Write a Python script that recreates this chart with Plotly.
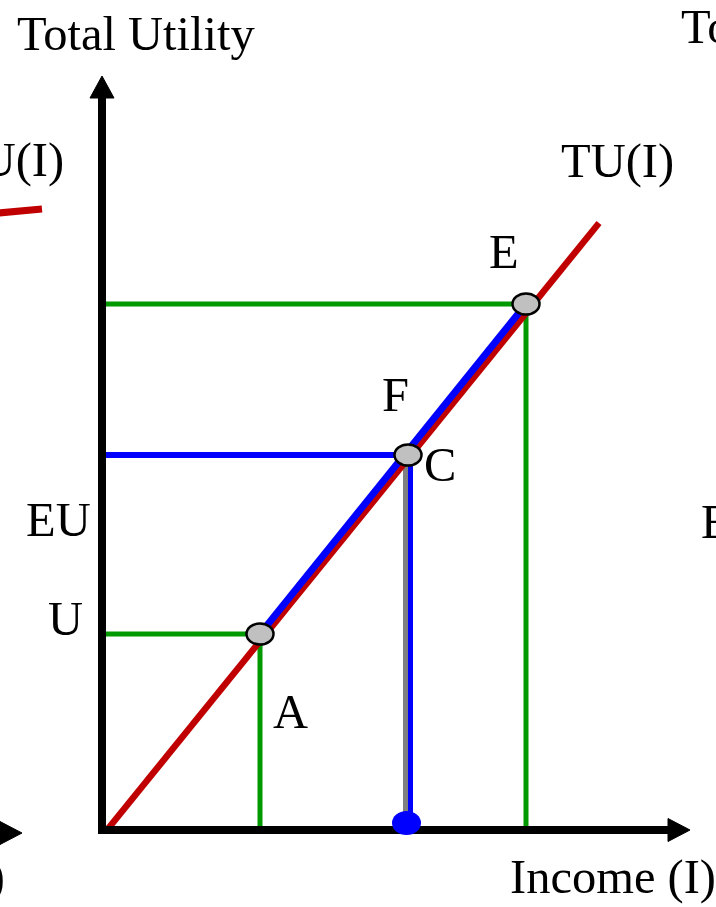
import plotly.graph_objects as go

# ---------------- data (diagram units: income, utility) ----------------
point_names = ["A", "C", "E"]
point_income = [158, 306, 424]
point_utility = [196, 375, 526]

# TU(I): straight total-utility line
tu_income = [5, 497]
tu_utility = [0, 607]

# axis extents (arrow tips)
income_axis_tip = 588
utility_axis_tip = 754

# fragments of the neighbouring panels
left_tu_income = [-125, -60]
left_tu_utility = [615, 621]
left_axis_tip = [-80, -3]

# labels
label_text = ["Total Utility", "TU(I)", "E", "F", "C", "EU", "U", "A", "Income (I)"]
label_x = [34, 515, 402, 293, 338, -43.5, -36.5, 188, 511]
label_y = [797, 669, 579, 436, 366, 311, 212, 119, -47]

# partial labels cut by the frame edges (text, x, y, anchor)
edge_text = ["TU(I)", "Total Utility", "EU", "Income (I)"]
edge_x = [-36, 577, 597, -95]
edge_y = [670, 804, 309, -47]
edge_anchor = ["right", "left", "left", "right"]

# ---------------- styles ----------------
RED = "#c00000"
BLUE = "#0000ff"
GREEN = "#009900"
GRAY = "#808080"
FONT = "Liberation Serif"
FS = 48.5

iA, iC, iE = point_income
uA, uC, uE = point_utility

fig = go.Figure()

def line(x, y, color, width):
    fig.add_trace(go.Scatter(x=x, y=y, mode="lines",
                             line=dict(color=color, width=width),
                             hoverinfo="skip", showlegend=False))

def arrow_head(tip_x, tip_y, direction, length, half):
    if direction == "up":
        xs = [tip_x, tip_x - half, tip_x + half, tip_x]
        ys = [tip_y, tip_y - length, tip_y - length, tip_y]
    else:
        xs = [tip_x, tip_x - length, tip_x - length, tip_x]
        ys = [tip_y, tip_y + half, tip_y - half, tip_y]
    fig.add_trace(go.Scatter(x=xs, y=ys, mode="lines", fill="toself",
                             fillcolor="black", line=dict(color="black", width=1),
                             hoverinfo="skip", showlegend=False))

# green guides for A and E
line([0, iA, iA], [uA, uA, 0], GREEN, 5)
line([0, iE, iE], [uE, uE, 0], GREEN, 5)
# blue horizontal to C, gray and blue verticals
line([0, iC], [uC, uC], BLUE, 6)
line([iC - 2.5, iC - 2.5], [uC, 15], GRAY, 5)
line([iC + 2.5, iC + 2.5], [uC, 8], BLUE, 5)
# TU(I)
line(tu_income, tu_utility, RED, 6.5)
# chord A-E
line([iA, iE], [uA, uE], BLUE, 7)
# left-panel fragment
line(left_tu_income, left_tu_utility, RED, 7)

# axes
line([0, 0, income_axis_tip - 20], [utility_axis_tip - 19, 0, 0], "black", 8)
arrow_head(0, utility_axis_tip, "up", 22, 12)
arrow_head(income_axis_tip, 0, "right", 22, 11.5)
arrow_head(left_axis_tip[0], left_axis_tip[1], "right", 22, 11.5)

shapes = []
for xi, yi in zip(point_income, point_utility):
    shapes.append(dict(type="circle", xref="x", yref="y",
                       x0=xi - 13.5, x1=xi + 13.5, y0=yi - 10.5, y1=yi + 10.5,
                       fillcolor="#c0c0c0", line=dict(color="black", width=2.5),
                       layer="above"))
# blue dot on the income axis below C
shapes.append(dict(type="circle", xref="x", yref="y",
                   x0=iC - 1.5 - 14.5, x1=iC - 1.5 + 14.5, y0=7 - 12, y1=7 + 12,
                   fillcolor=BLUE, line=dict(color=BLUE, width=0), layer="above"))

annotations = []
for t, x, y in zip(label_text, label_x, label_y):
    annotations.append(dict(text=t, x=x, y=y, xref="x", yref="y", showarrow=False,
                            xanchor="center", yanchor="middle",
                            font=dict(family=FONT, size=FS, color="black")))
for t, x, y, a in zip(edge_text, edge_x, edge_y, edge_anchor):
    annotations.append(dict(text=t, x=x, y=y, xref="x", yref="y", showarrow=False,
                            xanchor=a, yanchor="middle",
                            font=dict(family=FONT, size=FS, color="black")))

fig.update_layout(
    width=716, height=907,
    margin=dict(l=0, r=0, t=0, b=0),
    paper_bgcolor="white", plot_bgcolor="white",
    xaxis=dict(range=[-102, 614], visible=False, fixedrange=True),
    yaxis=dict(range=[-77, 830], visible=False, fixedrange=True),
    shapes=shapes, annotations=annotations,
    showlegend=False,
)

fig.write_html("out.html", config={"displayModeBar": False},
               post_script="document.body.style.margin='0';document.body.style.overflow='hidden';")
